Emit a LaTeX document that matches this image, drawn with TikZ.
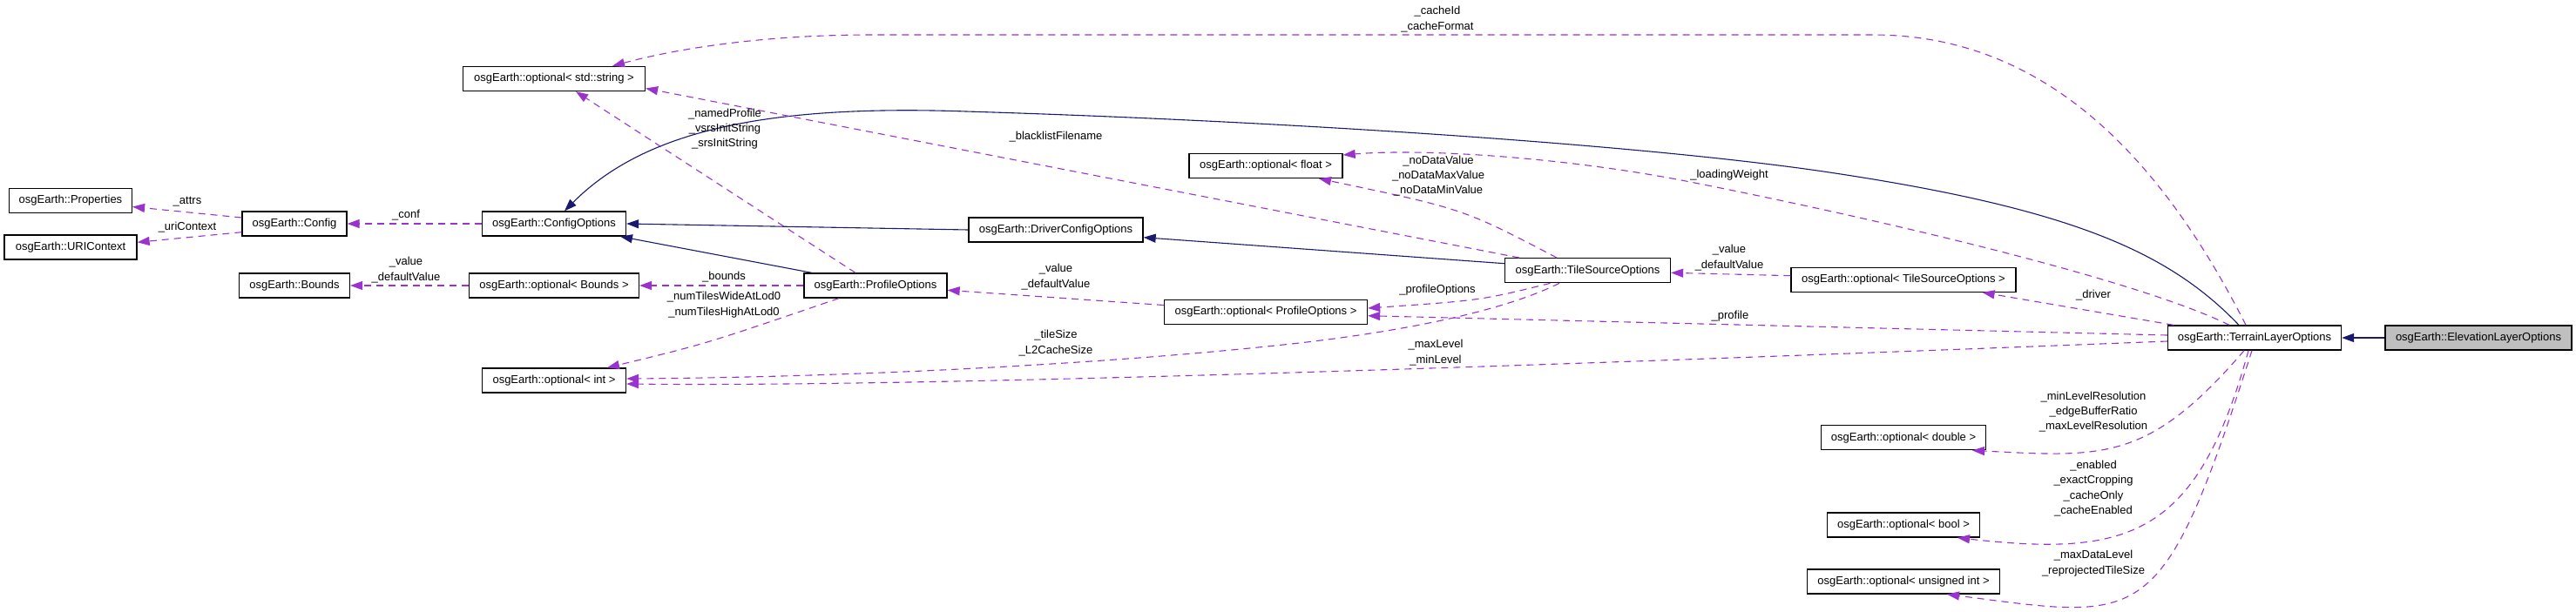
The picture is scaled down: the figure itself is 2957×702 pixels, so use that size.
\documentclass[tikz,border=0pt]{standalone}
\usepackage{fontspec}
\setmainfont{Liberation Sans}
\usetikzlibrary{arrows.meta}
\definecolor{inhblue}{HTML}{191970}
\definecolor{memorchid}{HTML}{9A32CD}
\definecolor{curgray}{HTML}{BFBFBF}
\begin{document}
\begin{tikzpicture}[x=1pt, y=-1pt, font=\fontsize{13}{17.3}\selectfont,
    cls/.style={draw, line width=1.3pt, minimum height=28, inner xsep=4, inner ysep=0},
    cur/.style={cls, fill=curgray},
    inh/.style={draw=inhblue, line width=1.1pt, -{Triangle[length=14pt, width=10pt]}},
    mem/.style={draw=memorchid, line width=1.1pt, dash pattern=on 8pt off 6pt, -{Triangle[length=14pt, width=10pt]}},
    lbl/.style={align=center, inner sep=0}]
    \useasboundingbox (0,0) rectangle (2957,702);
    \node[cls, minimum width=141] (props) at (81,230.5) {osgEarth::Properties};
    \node[cls, minimum width=152] (uric) at (81,284) {osgEarth::URIContext};
    \node[cls, minimum width=120] (conf) at (338,257) {osgEarth::Config};
    \node[cls, minimum width=127] (bnds) at (338,328) {osgEarth::Bounds};
    \node[cls, minimum width=209] (strg) at (636,90.5) {osgEarth::optional< std::string >};
    \node[cls, minimum width=165] (cfgopt) at (636,257) {osgEarth::ConfigOptions};
    \node[cls, minimum width=195] (optbnds) at (636,328) {osgEarth::optional< Bounds >};
    \node[cls, minimum width=165] (optint) at (636,437) {osgEarth::optional< int >};
    \node[cls, minimum width=164] (profopt) at (1005,328) {osgEarth::ProfileOptions};
    \node[cls, minimum width=200] (drvopt) at (1212,264) {osgEarth::DriverConfigOptions};
    \node[cls, minimum width=176] (optflt) at (1453,190.5) {osgEarth::optional< float >};
    \node[cls, minimum width=233] (optprof) at (1453,358.5) {osgEarth::optional< ProfileOptions >};
    \node[cls, minimum width=190] (tsopt) at (1822.5,310.7) {osgEarth::TileSourceOptions};
    \node[cls, minimum width=258] (opttso) at (2185,321.3) {osgEarth::optional< TileSourceOptions >};
    \node[cls, minimum width=189] (optdbl) at (2185,502.7) {osgEarth::optional< double >};
    \node[cls, minimum width=175] (optbool) at (2185,603) {osgEarth::optional< bool >};
    \node[cls, minimum width=221] (optuint) at (2185,668) {osgEarth::optional< unsigned int >};
    \node[cls, minimum width=199] (tlo) at (2588,388) {osgEarth::TerrainLayerOptions};
    \node[cur, minimum width=214] (elo) at (2845,388) {osgEarth::ElevationLayerOptions};
    \draw[inh] (elo.west) -- (tlo.east);
    \draw[inh] ([yshift=8pt]tsopt.west) -- ([yshift=-8.7pt]drvopt.east);
    \draw[inh] (drvopt.west) -- (cfgopt.east);
    \draw[inh] ([xshift=-73pt]profopt.north) -- ([xshift=76pt]cfgopt.south);
    \draw[inh] ([xshift=-18pt]tlo.north) .. controls (2490,290) and (2380,240) .. (2100,198) .. controls (1900,168) and (1500,140) .. (1109,128) .. controls (880,120) and (740,150) .. ([xshift=12pt]cfgopt.north);
    \draw[mem] ([yshift=7pt]conf.west) -- ([yshift=-7pt]props.east);
    \draw[mem] ([yshift=-9.7pt]conf.west) -- ([yshift=5.7pt]uric.east);
    \draw[mem] (cfgopt.west) -- (conf.east);
    \draw[mem] (optbnds.west) -- (bnds.east);
    \draw[mem] (profopt.west) -- (optbnds.east);
    \draw[mem] ([xshift=-23pt]profopt.north) -- ([xshift=25pt]strg.south);
    \draw[mem] ([xshift=-42pt]profopt.south) .. controls (810,395) .. ([xshift=61pt]optint.north);
    \draw[mem] ([xshift=-10pt]tlo.north) .. controls (2490,200) and (2360,40) .. (2150,40) -- (1000,40) .. controls (880,40) and (780,55) .. ([xshift=67pt]strg.north);
    \draw[mem] ([xshift=-78.5pt]tsopt.north) -- ([yshift=-11pt]strg.east);
    \draw[mem] ([xshift=-35.5pt]tsopt.north) .. controls (1680,240) .. ([xshift=61pt]optflt.south);
    \draw[mem] ([xshift=-29pt]tlo.north) .. controls (2450,320) and (2150,250) .. (1930,207) .. controls (1800,182) and (1640,170) .. ([yshift=12.5pt]optflt.east);
    \draw[mem] ([yshift=4.6pt]opttso.west) -- ([yshift=-2.6pt]tsopt.east);
    \draw[mem] ([xshift=-93pt]tlo.north) -- ([xshift=90.6pt]opttso.south);
    \draw[mem] ([xshift=-43pt]tsopt.south) .. controls (1700,345) .. ([yshift=4.5pt]optprof.east);
    \draw[mem] ([yshift=3pt]tlo.west) -- ([yshift=-4.2pt]optprof.east);
    \draw[mem] ([yshift=8pt]optprof.west) -- ([yshift=-5.3pt]profopt.east);
    \draw[mem] ([xshift=-32.5pt]tsopt.south) .. controls (1740,350) and (1650,375) .. (1500,393) .. controls (1300,416) and (1000,433) .. ([yshift=2pt]optint.east);
    \draw[mem] ([yshift=-4pt]tlo.west) .. controls (1900,415) and (1100,445) .. ([yshift=-4pt]optint.east);
    \draw[mem] ([xshift=-12pt]tlo.south) .. controls (2466,531) and (2414,525) .. ([xshift=79pt]optdbl.south);
    \draw[mem] ([xshift=-7pt]tlo.south) .. controls (2522,616) and (2445,640) .. ([xshift=62pt]optbool.south);
    \draw[mem] ([xshift=-3pt]tlo.south) .. controls (2481,727) and (2463,712) .. ([xshift=50pt]optuint.south);
    \node[lbl] (l-attrs) at (215,232) {\_attrs};
    \node[lbl] (l-uri) at (215,261) {\_uriContext};
    \node[lbl] (l-conf) at (466,247) {\_conf};
    \node[lbl] (l-bval) at (466,310) {\_value\\\_defaultValue};
    \node[lbl] (l-bounds) at (831,318) {\_bounds};
    \node[lbl] (l-tiles) at (831,350) {\_numTilesWideAtLod0\\\_numTilesHighAtLod0};
    \node[lbl] (l-srs) at (832,148) {\_namedProfile\\\_vsrsInitString\\\_srsInitString};
    \node[lbl] (l-black) at (1212,157) {\_blacklistFilename};
    \node[lbl] (l-cache) at (1650,22) {\_cacheId\\\_cacheFormat};
    \node[lbl] (l-nodata) at (1651,202) {\_noDataValue\\\_noDataMaxValue\\\_noDataMinValue};
    \node[lbl] (l-load) at (1985,201) {\_loadingWeight};
    \node[lbl] (l-tsval) at (1985,296) {\_value\\\_defaultValue};
    \node[lbl] (l-driver) at (2403,339) {\_driver};
    \node[lbl] (l-popt) at (1650,333) {\_profileOptions};
    \node[lbl] (l-profile) at (1986,363) {\_profile};
    \node[lbl] (l-pval) at (1212,318) {\_value\\\_defaultValue};
    \node[lbl] (l-tile) at (1212,394) {\_tileSize\\\_L2CacheSize};
    \node[lbl] (l-level) at (1648,405) {\_maxLevel\\\_minLevel};
    \node[lbl] (l-res) at (2403,473) {\_minLevelResolution\\\_edgeBufferRatio\\\_maxLevelResolution};
    \node[lbl] (l-flags) at (2403,561) {\_enabled\\\_exactCropping\\\_cacheOnly\\\_cacheEnabled};
    \node[lbl] (l-data) at (2403,647) {\_maxDataLevel\\\_reprojectedTileSize};
\end{tikzpicture}
\end{document}
